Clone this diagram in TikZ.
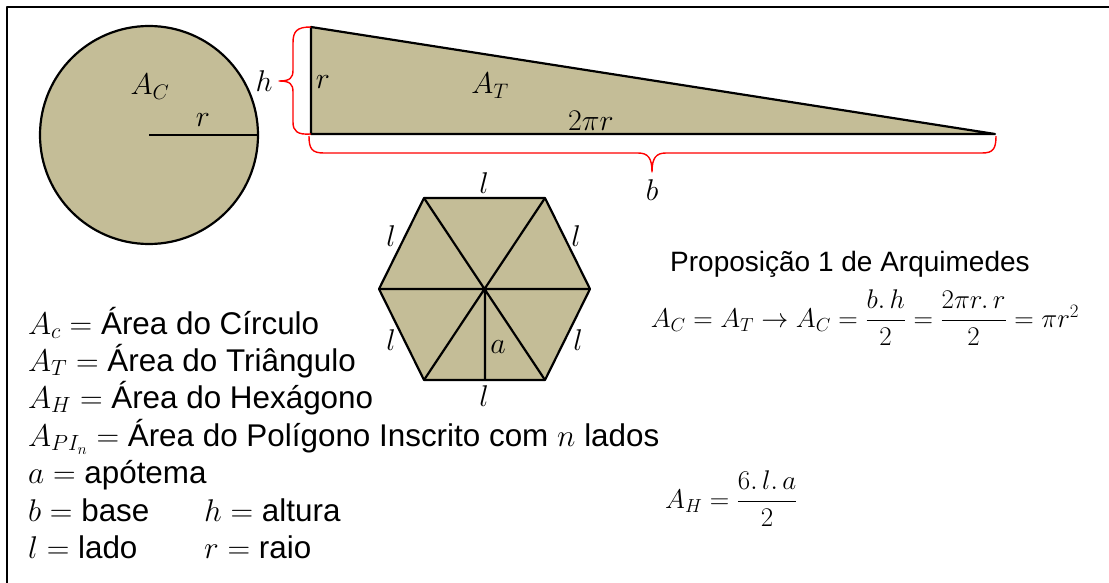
\RequirePackage{fix-cm}
\documentclass[tikz,border=0pt]{standalone}
\usepackage{amsmath}
\usepackage{fontspec}
\setmainfont{Liberation Sans}
\definecolor{tanfill}{HTML}{C4BD97}
\begin{document}
\begin{tikzpicture}[x=1pt,y=-1pt,line join=round,
  figfill/.style={fill=tanfill,draw=black,line width=2.2pt},
  blk/.style={draw=black,line width=2.2pt},
  redbrace/.style={draw=red,line width=1.4pt},
  lbl/.style={font=\fontsize{30}{34}\selectfont,inner sep=0pt},
  legend/.style={font=\fontsize{31.4}{36}\selectfont,inner sep=0pt,anchor=base west},
  eqn/.style={font=\fontsize{27}{32}\selectfont,inner sep=0pt}]
\useasboundingbox (0,0) rectangle (1109,583);
\fill[white] (0,0) rectangle (1109,583);
\coordinate (F1) at (7,583);
\coordinate (F2) at (7,7);
\coordinate (F3) at (1109,7);
\draw[line width=2.6pt] (F1) -- (F2) -- (F3);
% circle
\coordinate (O) at (149,135);
\coordinate (R) at (257,135);
\draw[figfill] (O) circle[radius=109];
\draw[blk] (O) -- (R);
\node[lbl] (rc) at (203,120) {$r$};
\node[lbl] (ac) at (150,87) {$A_C$};
% triangle
\coordinate (T1) at (311,27);
\coordinate (T2) at (311,134);
\coordinate (T3) at (995,134);
\draw[figfill] (T1) -- (T2) -- (T3) -- cycle;
\node[lbl] (h) at (264,81) {$h$};
\node[lbl] (rt) at (323,82) {$r$};
\node[lbl] (at) at (490,86) {$A_T$};
\node[lbl] (tpr) at (591,121) {$2\pi r$};
\node[lbl] (bb) at (652,190) {$b$};
% braces
\draw[redbrace] (T1) .. controls (297,27) and (293,31) .. (293,43) -- (293,70)
  .. controls (293,78) and (290,81) .. (279,81)
  .. controls (290,81) and (293,84) .. (293,92) -- (293,122)
  .. controls (293,131) and (297,135) .. (T2);
\draw[redbrace] (309,136) .. controls (309,149) and (312,153) .. (324,153) -- (638,153)
  .. controls (648,153) and (652,158) .. (652,172)
  .. controls (652,158) and (656,153) .. (666,153) -- (982,153)
  .. controls (993,153) and (996,149) .. (996,136);
% hexagon
\coordinate (H1) at (424,198);
\coordinate (H2) at (545,198);
\coordinate (H3) at (590,289);
\coordinate (H4) at (545,380);
\coordinate (H5) at (424,380);
\coordinate (H6) at (379,289);
\coordinate (C) at (485,289);
\coordinate (M) at (485,380);
\draw[figfill] (H1) -- (H2) -- (H3) -- (H4) -- (H5) -- (H6) -- cycle;
\draw[blk] (H1) -- (H4) (H2) -- (H5) (H3) -- (H6) (C) -- (M);
\node[lbl] (l1) at (484,183) {$l$};
\node[lbl] (l2) at (391,236) {$l$};
\node[lbl] (l3) at (576,236) {$l$};
\node[lbl] (l4) at (391,340) {$l$};
\node[lbl] (l5) at (578,340) {$l$};
\node[lbl] (l6) at (484,396) {$l$};
\node[lbl] (aa) at (498,347) {$a$};
% legend
\node[legend] (g1) at (28,334) {$A_c=$ Área do Círculo};
\node[legend] (g2) at (28,371) {$A_T=$ Área do Triângulo};
\node[legend] (g3) at (28,408) {$A_H=$ Área do Hexágono};
\node[legend] (g4) at (28,446) {$A_{PI_n}=$ Área do Polígono Inscrito com $n$ lados};
\node[legend] (g5) at (28,483) {$a=$ apótema};
\node[legend] (g6) at (28,521) {$b=$ base};
\node[legend] (g7) at (204,521) {$h=$ altura};
\node[legend] (g8) at (28,558) {$l=$ lado};
\node[legend] (g9) at (204,558) {$r=$ raio};
% equations
\node[eqn,anchor=base] (prop) at (850,271) {\fontsize{28}{32}\selectfont Proposição 1 de Arquimedes};
\node[eqn,anchor=base] (eq1) at (865,327) {$A_C=A_T\rightarrow A_C=\dfrac{b.\,h}{2}=\dfrac{2\pi r.\,r}{2}=\pi r^2$};
\node[eqn,anchor=base west] (eq2) at (665,508) {$A_H=\dfrac{6.\,l.\,a}{2}$};
\end{tikzpicture}
\end{document}
